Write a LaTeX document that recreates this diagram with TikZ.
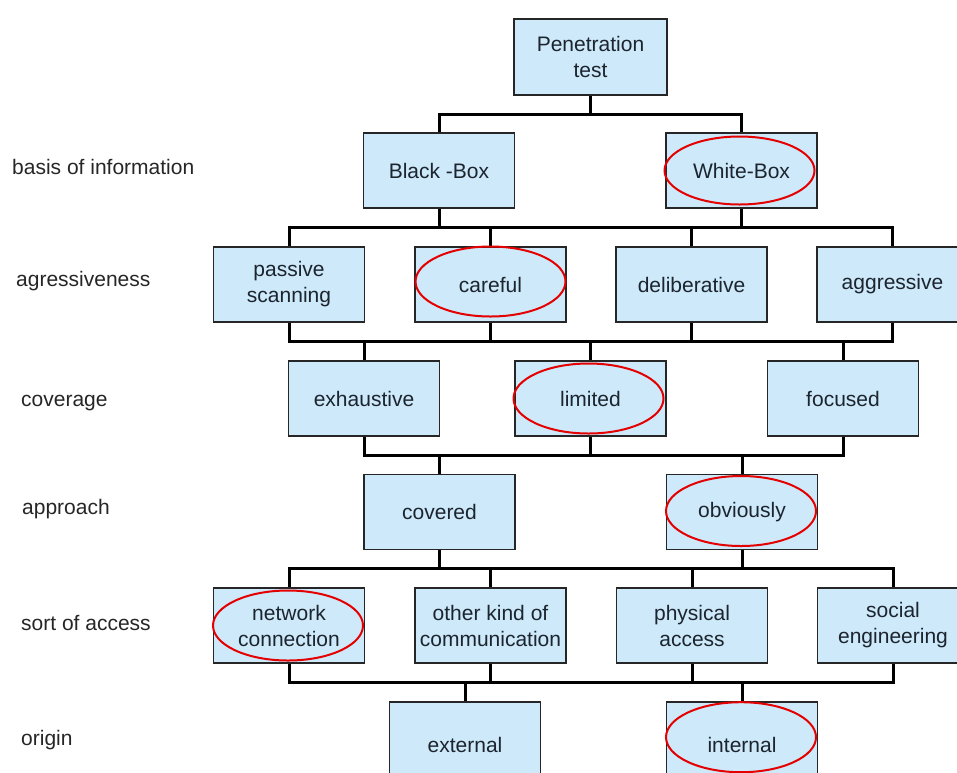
\documentclass[tikz,border=0pt]{standalone}
\usepackage{fontspec}
\setmainfont{Liberation Sans}
\usepackage{xcolor}
\usetikzlibrary{calc}
\definecolor{boxblue}{RGB}{205,233,250}
\definecolor{boxtxt}{RGB}{28,36,46}

\begin{document}
\begin{tikzpicture}[x=1pt,y=-1pt,
  box/.style={draw=black!85,line width=1.6pt,fill=boxblue,minimum width=151pt,minimum height=75pt,
    inner sep=1pt,align=center,text=boxtxt,font=\fontsize{21}{26}\selectfont},
  lab/.style={anchor=base west,inner sep=0pt,text=black!85,font=\fontsize{21}{26}\selectfont},
  elbow/.style={line width=3pt,to path={(\tikztostart.south) |- ($(\tikztostart.south)!.5!(\tikztotarget.north)$) -| (\tikztotarget.north)}},
  hl/.style={draw=red!90!black,line width=2pt}]
 \useasboundingbox (0,0) rectangle (957,772);
 % ---- levels ----
 \node[lab] (l1) at (12,174) {basis of information};
 \node[lab] (l2) at (16,286) {agressiveness};
 \node[lab] (l3) at (21,406) {coverage};
 \node[lab] (l4) at (22,514) {approach};
 \node[lab] (l5) at (21,630) {sort of access};
 \node[lab] (l6) at (21,745) {origin};
 % ---- boxes ----
 \node[box,minimum width=153pt,minimum height=76pt] (pen) at (590.5,57) {Penetration\\test};
 \node[box] (bb) at (439,170.5) {Black -Box};
 \node[box] (wb) at (741.5,170.5) {White-Box};
 \node[box] (ps) at (289,284.5) {passive\\scanning};
 \node[box] (ca) at (490.5,284.5) {careful};
 \node[box] (de) at (691.5,284.5) {deliberative};
 \node[box] (ag) at (892.5,284.5) {aggressive};
 \node[box] (ex) at (364,398.5) {exhaustive};
 \node[box] (li) at (590.5,398.5) {limited};
 \node[box] (fo) at (843,398.5) {focused};
 \node[box] (co) at (439.5,512) {covered};
 \node[box] (ob) at (742,512) {obviously};
 \node[box] (nc) at (289,625.5) {network\\connection};
 \node[box] (ok) at (490.5,625.5) {other kind of\\communication};
 \node[box] (pa) at (692,625.5) {physical\\access};
 \node[box] (se) at (893,625.5) {social\\engineering};
 \node[box,minimum height=86pt] (ext) at (465,745) {external};
 \node[box,minimum height=86pt] (int) at (742,745) {internal};
 % ---- buses ----
 \draw[elbow] (pen) to (bb); \draw[elbow] (pen) to (wb);
 \draw[elbow] (bb) to (ps); \draw[elbow] (bb) to (ca); \draw[elbow] (bb) to (de);
 \draw[elbow] (wb) to (de); \draw[elbow] (wb) to (ag);
 \draw[elbow] (ps) to (ex); \draw[elbow] (ca) to (ex); \draw[elbow] (ca) to (li);
 \draw[elbow] (de) to (li); \draw[elbow] (de) to (fo); \draw[elbow] (ag) to (fo);
 \draw[elbow] (ex) to (co); \draw[elbow] (li) to (co);
 \draw[elbow] (li) to (ob); \draw[elbow] (fo) to (ob);
 \draw[elbow] (co) to (nc); \draw[elbow] (co) to (ok); \draw[elbow] (co) to (pa);
 \draw[elbow] (ob) to (pa); \draw[elbow] (ob) to (se);
 \draw[elbow] (nc) to (ext); \draw[elbow] (ok) to (ext); \draw[elbow] (ok) to (int);
 \draw[elbow] (pa) to (int); \draw[elbow] (se) to (int);
 % ---- chosen ----
 \draw[hl] ($(wb)+(-2,0)$) ellipse [x radius=75,y radius=34];
 \draw[hl] ($(ca)+(0,-3)$) ellipse [x radius=75,y radius=35];
 \draw[hl] ($(li)+(-2,0)$) ellipse [x radius=75,y radius=35];
 \draw[hl] ($(ob)+(-1,-1)$) ellipse [x radius=75,y radius=35];
 \draw[hl] ($(nc)+(-1,0)$) ellipse [x radius=75,y radius=35];
 \draw[hl] ($(int.north)+(-1,36)$) ellipse [x radius=75,y radius=35];
\end{tikzpicture}
\end{document}
